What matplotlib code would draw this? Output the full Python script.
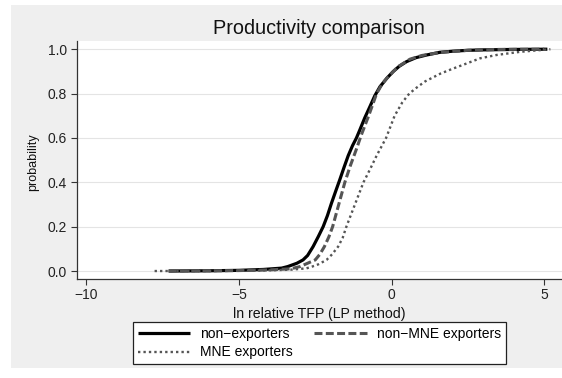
import matplotlib
matplotlib.use("Agg")
import matplotlib.pyplot as plt
from matplotlib.patches import Rectangle

plt.rcParams['font.family'] = ['Liberation Sans', 'DejaVu Sans']

# ---- data ----
nonexp_x = [-7.3, -6.0, -5.0, -4.2, -3.6, -3.4, -3.1, -2.9, -2.75, -2.57, -2.4,
            -2.24, -2.1, -1.97, -1.83, -1.70, -1.55, -1.42, -1.28, -1.15, -1.04,
            -0.88, -0.71, -0.55, -0.38, -0.15, 0.05, 0.25, 0.49, 0.8, 1.15, 1.58,
            2.0, 2.5, 3.0, 4.0, 5.1]
nonexp_y = [0.0, 0.001, 0.003, 0.007, 0.013, 0.02, 0.035, 0.05, 0.07, 0.11, 0.155,
            0.2, 0.25, 0.305, 0.36, 0.41, 0.47, 0.52, 0.565, 0.6, 0.636,
            0.69, 0.741, 0.79, 0.831, 0.87, 0.899, 0.923, 0.944, 0.962, 0.974, 0.986,
            0.991, 0.995, 0.997, 0.999, 1.0]

nonmne_x = [-7.3, -5.0, -4.0, -3.3, -3.0, -2.75, -2.5, -2.35, -2.2, -2.05, -1.93,
            -1.73, -1.53, -1.35, -1.15, -1.0, -0.75, -0.49, -0.3, -0.15, 0.2, 0.6,
            1.0, 1.58, 2.0, 2.5, 3.5, 5.0]
nonmne_y = [0.0, 0.002, 0.005, 0.01, 0.02, 0.035, 0.05, 0.075, 0.11, 0.155, 0.2,
            0.3, 0.4, 0.475, 0.55, 0.61, 0.7, 0.8, 0.845, 0.87, 0.92, 0.955,
            0.972, 0.985, 0.99, 0.995, 0.999, 1.0]

mne_x = [-7.76, -6.0, -5.0, -4.0, -3.3, -2.79, -2.6, -2.4, -2.13, -1.95, -1.75,
         -1.6, -1.48, -1.2, -0.92, -0.7, -0.49, -0.18, 0.1, 0.35, 0.58, 0.85,
         1.1, 1.6, 2.0, 2.35, 2.9, 3.44, 4.2, 5.2]
mne_y = [0.0, 0.0, 0.001, 0.003, 0.006, 0.012, 0.02, 0.03, 0.05, 0.075, 0.11,
         0.15, 0.2, 0.3, 0.4, 0.46, 0.52, 0.6, 0.7, 0.76, 0.8, 0.83,
         0.855, 0.89, 0.912, 0.93, 0.959, 0.974, 0.988, 1.0]

labels = ["non\u2212exporters", "non\u2212MNE exporters", "MNE exporters"]
xticks = [-10, -5, 0, 5]
yticks = [0.0, 0.2, 0.4, 0.6, 0.8, 1.0]

W, H = 562, 378
fig = plt.figure(figsize=(W / 100, H / 100), dpi=100)
fig.patch.set_facecolor('white')
fig.patches.append(Rectangle((11 / W, 1 - 368 / H), (W - 11) / W, (368 - 5) / H,
                             transform=fig.transFigure, facecolor='#efefef',
                             edgecolor='none', zorder=-10))

ax = fig.add_axes([76.7 / W, 1 - 279 / H, (W - 76.7) / W, (279 - 41) / H])
ax.set_zorder(1)
ax.set_facecolor('white')

l1, = ax.plot(nonexp_x, nonexp_y, color='black', lw=2.3, solid_capstyle='butt',
              solid_joinstyle='round', label=labels[0])
l2, = ax.plot(nonmne_x, nonmne_y, color='#555555', lw=2.2,
              linestyle=(0, (2.6, 1.1)), label=labels[1])
l3, = ax.plot(mne_x, mne_y, color='#555555', lw=1.7,
              linestyle=(0, (1.0, 1.3)), label=labels[2])

ax.set_xlim(-10.31, 5.58)
ax.set_ylim(-0.036, 1.037)
ax.set_xticks(xticks)
ax.set_xticklabels([str(t).replace('-', '\u2212') for t in xticks])
ax.set_yticks(yticks)
ax.set_yticklabels([f"{t:.1f}" for t in yticks])

ax.yaxis.grid(True, color='#e4e4e4', lw=0.8)
ax.xaxis.grid(False)
ax.set_axisbelow(True)

for s in ['top', 'right']:
    ax.spines[s].set_visible(False)
for s in ['left', 'bottom']:
    ax.spines[s].set_color('#333333')
    ax.spines[s].set_linewidth(0.9)

ax.tick_params(axis='both', length=4.3, width=0.8, color='#333333',
               labelsize=10, labelcolor='#222222')
ax.tick_params(axis='y', pad=2.7)
ax.tick_params(axis='x', pad=2.0)

fig.text(319.3 / W, 1 - 34 / H, "Productivity comparison", ha='center',
         va='baseline', fontsize=14.3, color='#111111')
fig.text(319.3 / W, 1 - 318.3 / H, "ln relative TFP (LP method)", ha='center',
         va='baseline', fontsize=10.2, color='#111111')
fig.text(33.3 / W, 1 - 162.5 / H, "probability", ha='center', va='center',
         rotation=90, fontsize=9, color='#111111')

leg = ax.legend([l1, l3, l2], [labels[0], labels[2], labels[1]], ncol=2,
                loc='upper center', bbox_to_anchor=(319.3 / W, 1 - 321.7 / H),
                bbox_transform=fig.transFigure, fontsize=10, frameon=True,
                fancybox=False, handlelength=3.8, handletextpad=0.7,
                columnspacing=1.55, borderpad=0.35, labelspacing=0.35,
                borderaxespad=0)
leg.get_frame().set_edgecolor('#222222')
leg.get_frame().set_linewidth(0.9)
leg.get_frame().set_facecolor('white')
leg.get_frame().set_alpha(1)

fig.savefig("out.png", dpi=100)
